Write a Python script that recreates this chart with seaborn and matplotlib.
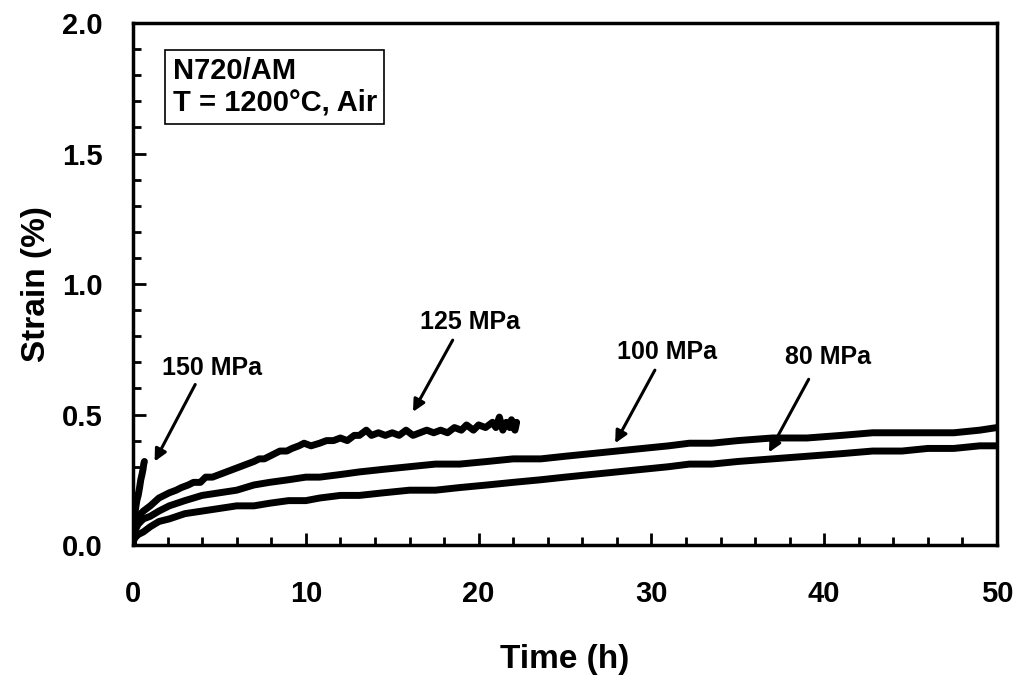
import numpy as np
import pandas as pd
import matplotlib
matplotlib.use("Agg")
import matplotlib.pyplot as plt
import seaborn as sns
from matplotlib.ticker import MultipleLocator

# ---- data ----
t_150 = [0.0, 0.03, 0.08, 0.15, 0.22, 0.30, 0.38, 0.45, 0.52, 0.58, 0.62, 0.66]
s_150 = [0.0, 0.07, 0.11, 0.14, 0.17, 0.19, 0.22, 0.25, 0.27, 0.29, 0.31, 0.32]

t_125 = [0.0, 0.05, 0.15, 0.3, 0.6, 1.0, 1.5, 2.1, 2.5, 2.8, 3.2, 3.5, 3.9, 4.2, 4.6, 5.0,
         5.4, 5.8, 6.2, 6.6, 7.0, 7.3, 7.6, 7.9, 8.2, 8.5, 8.9, 9.2, 9.6, 9.9, 10.3, 10.8,
         11.2, 11.6, 12.0, 12.4, 12.8, 13.1, 13.5, 13.8, 14.2, 14.6, 15.0, 15.4, 15.8, 16.2,
         16.6, 17.0, 17.4, 17.8, 18.2, 18.6, 19.0, 19.3, 19.7, 20.0, 20.4, 20.8, 21.0, 21.2,
         21.4, 21.6, 21.8, 21.9, 22.1, 22.2]
s_125 = [0.0, 0.06, 0.09, 0.11, 0.13, 0.15, 0.18, 0.20, 0.21, 0.22, 0.23, 0.24, 0.24, 0.26, 0.26, 0.27,
         0.28, 0.29, 0.30, 0.31, 0.32, 0.33, 0.33, 0.34, 0.35, 0.36, 0.36, 0.37, 0.38, 0.39, 0.38, 0.39,
         0.40, 0.40, 0.41, 0.40, 0.42, 0.42, 0.44, 0.42, 0.43, 0.42, 0.43, 0.42, 0.44, 0.42,
         0.43, 0.44, 0.43, 0.44, 0.43, 0.45, 0.44, 0.46, 0.44, 0.46, 0.45, 0.47, 0.45, 0.49,
         0.44, 0.47, 0.45, 0.48, 0.44, 0.47]

t_100 = [0.0, 0.05, 0.15, 0.3, 0.6, 1.0, 1.5, 2.1, 3.0, 4.0, 5.0, 6.0, 7.0, 7.9, 9.0, 10.0,
         10.8, 12.0, 13.1, 14.5, 16.0, 17.5, 18.9, 20.5, 22.0, 23.6, 25.0, 26.5, 28.0,
         29.5, 31.0, 32.2, 33.5, 35.0, 37.0, 39.0, 41.0, 42.8, 44.5, 46.0, 47.5, 49.0, 50.0]
s_100 = [0.0, 0.04, 0.06, 0.08, 0.10, 0.11, 0.13, 0.15, 0.17, 0.19, 0.20, 0.21, 0.23, 0.24, 0.25,
         0.26, 0.26, 0.27, 0.28, 0.29, 0.30, 0.31, 0.31, 0.32, 0.33, 0.33, 0.34, 0.35, 0.36,
         0.37, 0.38, 0.39, 0.39, 0.40, 0.41, 0.41, 0.42, 0.43, 0.43, 0.43, 0.43, 0.44, 0.45]

t_80 = [0.0, 0.05, 0.15, 0.3, 0.6, 1.0, 1.5, 2.1, 3.0, 4.0, 5.0, 6.0, 7.0, 7.9, 9.0, 10.0,
        10.8, 12.0, 13.1, 14.5, 16.0, 17.5, 18.9, 20.5, 22.0, 23.6, 25.0, 26.5, 28.0,
        29.5, 31.0, 32.2, 33.5, 35.0, 37.0, 39.0, 41.0, 42.8, 44.5, 46.0, 47.5, 49.0, 50.0]
s_80 = [0.0, 0.02, 0.03, 0.04, 0.05, 0.07, 0.09, 0.10, 0.12, 0.13, 0.14, 0.15, 0.15, 0.16, 0.17,
        0.17, 0.18, 0.19, 0.19, 0.20, 0.21, 0.21, 0.22, 0.23, 0.24, 0.25, 0.26, 0.27, 0.28,
        0.29, 0.30, 0.31, 0.31, 0.32, 0.33, 0.34, 0.35, 0.36, 0.36, 0.37, 0.37, 0.38, 0.38]

labels = ["150 MPa", "125 MPa", "100 MPa", "80 MPa"]
label_pos = [(4.6, 0.68), (19.5, 0.855), (30.9, 0.74), (40.2, 0.72)]
arrow_tail = [(3.6, 0.615), (18.5, 0.785), (30.2, 0.67), (39.1, 0.635)]
arrow_head = [(1.25, 0.32), (16.2, 0.51), (27.9, 0.39), (36.8, 0.355)]

xticks = [0, 10, 20, 30, 40, 50]
yticks = [0.0, 0.5, 1.0, 1.5, 2.0]

# ---- plotting ----
sns.set_style("white")
plt.rcParams['font.family'] = ['Liberation Sans', 'DejaVu Sans']
plt.rcParams['font.weight'] = 'bold'
plt.rcParams['text.color'] = 'black'
plt.rcParams['axes.labelcolor'] = 'black'
plt.rcParams['xtick.color'] = 'black'
plt.rcParams['ytick.color'] = 'black'

fig = plt.figure(figsize=(10.2, 6.75), dpi=100)
ax = fig.add_axes([0.1304, 0.1926, 0.8471, 0.7733])

frames = []
for name, t, s in [("150", t_150, s_150), ("125", t_125, s_125),
                   ("100", t_100, s_100), ("80", t_80, s_80)]:
    frames.append(pd.DataFrame({"Time": t, "Strain": s, "stress": name}))
df = pd.concat(frames, ignore_index=True)

for name in ["80", "100", "125", "150"]:
    sub = df[df.stress == name]
    sns.lineplot(data=sub, x="Time", y="Strain", ax=ax, color="black",
                 linewidth=5.0, estimator=None, sort=False, legend=False)

ax.set_xlim(0, 50)
ax.set_ylim(0, 2.0)
ax.set_xticks(xticks)
ax.set_yticks(yticks)
ax.set_xticklabels([str(v) for v in xticks])
ax.set_yticklabels([f"{v:.1f}" for v in yticks])
ax.xaxis.set_minor_locator(MultipleLocator(2))
ax.yaxis.set_minor_locator(MultipleLocator(0.1))
ax.tick_params(which='major', direction='in', length=9, width=2.0,
               labelsize=21, bottom=True, left=True, top=False, right=False,
               colors='black')
ax.tick_params(which='minor', direction='in', length=6, width=2.0,
               bottom=True, left=True, top=False, right=False, colors='black')
ax.tick_params(axis='x', which='major', pad=25)
ax.tick_params(axis='y', which='major', pad=22)
for lbl in ax.get_xticklabels() + ax.get_yticklabels():
    lbl.set_fontweight('bold')

for sp in ax.spines.values():
    sp.set_visible(True)
    sp.set_linewidth(2.5)
    sp.set_color('black')

ax.set_xlabel("Time (h)", fontsize=24, fontweight='bold', labelpad=26, color='black')
ax.set_ylabel("Strain (%)", fontsize=24, fontweight='bold', labelpad=7, color='black')

for lab, pos, tail, head in zip(labels, label_pos, arrow_tail, arrow_head):
    ax.text(pos[0], pos[1], lab, fontsize=18, fontweight='bold',
            ha='center', va='center', color='black')
    ax.annotate("", xy=head, xytext=tail,
                arrowprops=dict(arrowstyle="-|>", color="black", lw=2.2,
                                mutation_scale=18, shrinkA=0, shrinkB=0))

ax.text(0.046, 0.935, "N720/AM\nT = 1200°C, Air", transform=ax.transAxes,
        fontsize=21, fontweight='bold', ha='left', va='top', linespacing=1.15,
        color='black',
        bbox=dict(boxstyle='square,pad=0.25', fc='white', ec='black', lw=1.2))

fig.savefig("out.png", dpi=100)
